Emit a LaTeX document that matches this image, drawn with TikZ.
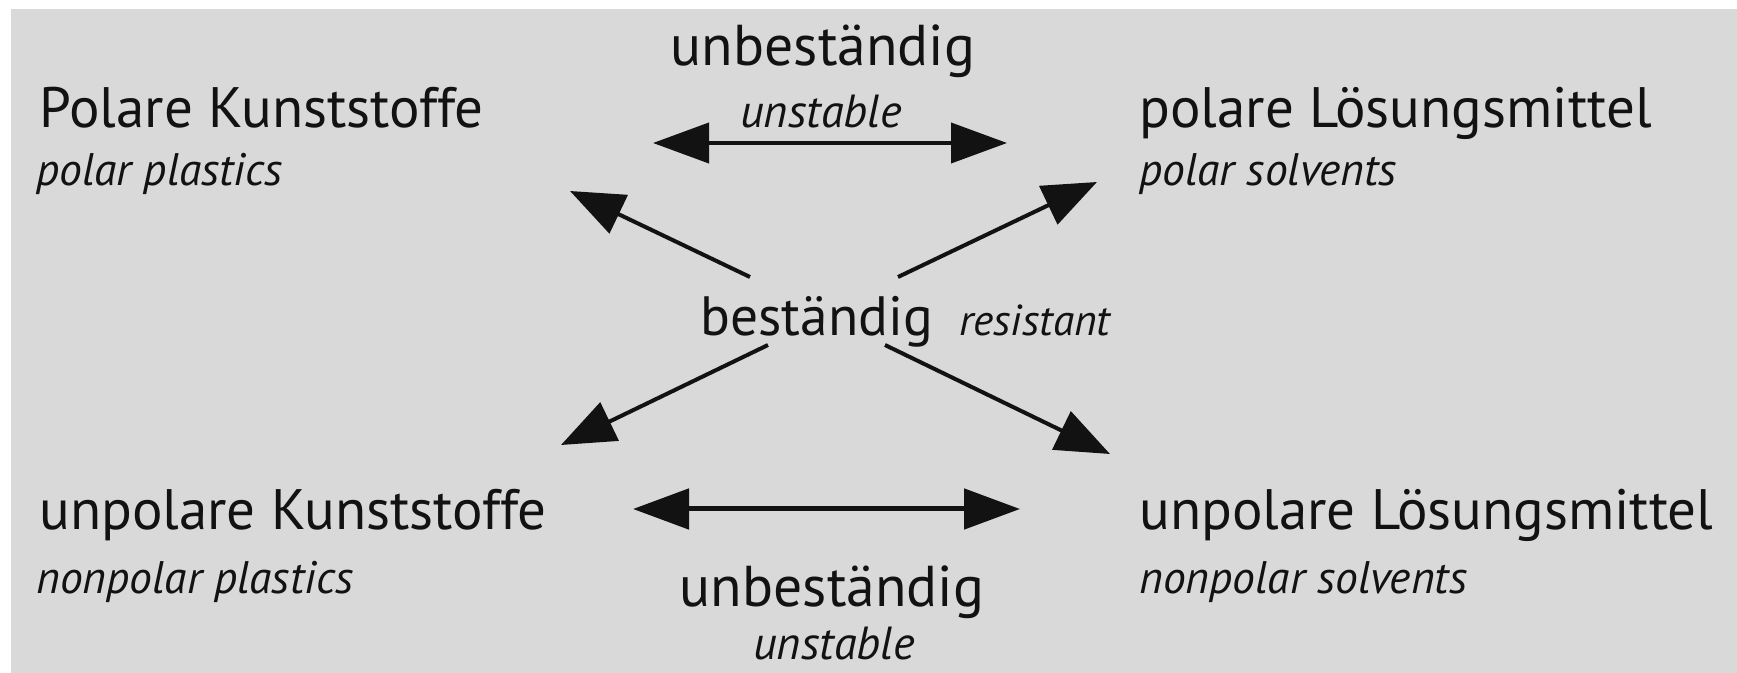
\documentclass[tikz,border=0pt]{standalone}
\usepackage{fontspec}
\setmainfont{PT Sans}
\usetikzlibrary{arrows.meta}
\definecolor{bg}{RGB}{217,217,217}
\definecolor{ink}{RGB}{18,18,18}
\begin{document}
\begin{tikzpicture}[x=0.5pt,y=-0.5pt,
  big/.style={font=\fontsize{28.5}{30}\selectfont, inner sep=0pt, anchor=base west, text=ink},
  sub/.style={font=\fontsize{22.8}{26}\selectfont\itshape, inner sep=0pt, anchor=base west, text=ink},
  mid/.style={font=\fontsize{28.8}{30}\selectfont, inner sep=0pt, anchor=base, text=ink},
  midsub/.style={font=\fontsize{23.2}{26}\selectfont\itshape, inner sep=0pt, anchor=base, text=ink},
  arr/.style={line width=2pt, draw=ink, -{Triangle[length=27pt,width=21pt]}},
  darr/.style={line width=2pt, draw=ink, {Triangle[length=28pt,width=20pt]}-{Triangle[length=28pt,width=20pt]}}]
\useasboundingbox (0,0) rectangle (1737,673);
\fill[white] (0,0) rectangle (1737,673);
\fill[bg] (11,9) rectangle (1737,673);

% corner labels
\node[big] (pk) at (39,128) {Polare Kunststoffe};
\node[sub] (pkE) at (36,186) {polar plastics};
\node[big] (pl) at (1139,128) {polare Lösungsmittel};
\node[sub] (plE) at (1139,186) {polar solvents};
\node[big] (uk) at (39,530) {unpolare Kunststoffe};
\node[sub] (ukE) at (36,594) {nonpolar plastics};
\node[big] (ul) at (1139,530) {unpolare Lösungsmittel};
\node[sub] (ulE) at (1139,594) {nonpolar solvents};

% top
\node[mid] (tu) at (823,66) {unbeständig};
\node[midsub] (tuE) at (821,128) {unstable};
% bottom
\node[mid] (bu) at (832,607) {unbeständig};
\node[midsub] (buE) at (834,660) {unstable};
% centre
\node[big,font=\fontsize{27.7}{30}\selectfont] (cb) at (700,336) {beständig};
\node[sub,font=\fontsize{21.7}{26}\selectfont\itshape] (cbE) at (959,336) {resistant};

% arrow end points
\coordinate (tL) at (653,143);
\coordinate (tR) at (1007,143);
\coordinate (bL) at (633,509);
\coordinate (bR) at (1020,509);
\coordinate (ulT) at (750,277);
\coordinate (ulH) at (570,191);
\coordinate (urT) at (898,277);
\coordinate (urH) at (1097,182);
\coordinate (dlT) at (768,345);
\coordinate (dlH) at (561,445);
\coordinate (drT) at (885,345);
\coordinate (drH) at (1110,454);

\draw[darr] (tL) -- (tR);
\draw[darr, line width=2.5pt] (bL) -- (bR);
\draw[arr] (ulT) -- (ulH);
\draw[arr] (urT) -- (urH);
\draw[arr] (dlT) -- (dlH);
\draw[arr] (drT) -- (drH);
\end{tikzpicture}
\end{document}
